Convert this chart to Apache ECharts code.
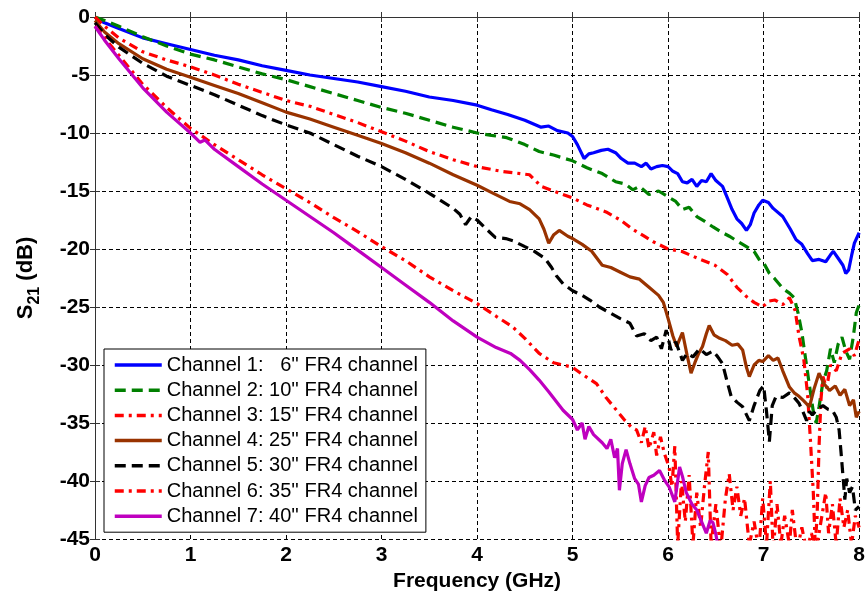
<!DOCTYPE html>
<html>
<head>
<meta charset="utf-8">
<script src="https://cdn.jsdelivr.net/npm/echarts@6/dist/echarts.min.js"></script>
<style>html,body{margin:0;padding:0;background:#fff}#c{width:868px;height:598px}</style>
</head>
<body>
<div id="c"></div>
<script>
// ---- data (frequency GHz, S21 dB) ----
const seriesNames = [
  "Channel 1:   6'' FR4 channel",
  "Channel 2: 10'' FR4 channel",
  "Channel 3: 15'' FR4 channel",
  "Channel 4: 25'' FR4 channel",
  "Channel 5: 30'' FR4 channel",
  "Channel 6: 35'' FR4 channel",
  "Channel 7: 40'' FR4 channel"
];
const xTicks = [0,1,2,3,4,5,6,7,8];
const yTicks = [0,-5,-10,-15,-20,-25,-30,-35,-40,-45];

const ch1 = [[0,0],[0.05,-0.3],[0.1,-0.5],[0.25,-1.0],[0.5,-1.8],[0.75,-2.3],[1.0,-2.8],[1.25,-3.3],[1.5,-3.7],[1.75,-4.2],[2.0,-4.6],[2.25,-5.0],[2.5,-5.3],[2.75,-5.6],[3.0,-6.0],[3.25,-6.4],[3.5,-6.9],[3.75,-7.2],[4.0,-7.6],[4.15,-8.0],[4.32,-8.4],[4.5,-8.9],[4.67,-9.5],[4.75,-9.4],[4.84,-9.8],[4.95,-10.0],[5.0,-10.3],[5.05,-11.0],[5.12,-12.2],[5.17,-11.8],[5.22,-11.7],[5.3,-11.5],[5.37,-11.4],[5.45,-11.7],[5.51,-12.2],[5.58,-12.6],[5.65,-12.6],[5.72,-12.9],[5.77,-12.6],[5.82,-13.1],[5.88,-12.9],[5.94,-12.8],[6.0,-12.9],[6.05,-13.3],[6.1,-13.5],[6.15,-14.2],[6.2,-14.3],[6.25,-14.0],[6.3,-14.6],[6.35,-14.1],[6.4,-14.2],[6.45,-13.5],[6.5,-14.1],[6.57,-14.6],[6.62,-15.6],[6.67,-16.6],[6.72,-17.4],[6.77,-17.8],[6.82,-18.4],[6.86,-17.9],[6.9,-16.9],[6.95,-16.2],[6.99,-15.8],[7.05,-16.0],[7.1,-16.5],[7.2,-17.2],[7.28,-18.3],[7.34,-19.2],[7.4,-19.6],[7.46,-20.4],[7.51,-21.0],[7.58,-20.9],[7.65,-21.1],[7.7,-20.5],[7.73,-20.2],[7.78,-20.8],[7.83,-21.4],[7.86,-22.1],[7.89,-21.8],[7.92,-20.6],[7.95,-19.5],[8.0,-18.6]];

const ch2 = [[0,0],[0.05,-0.15],[0.1,-0.3],[0.25,-0.8],[0.5,-1.7],[0.75,-2.5],[1.0,-3.2],[1.25,-3.7],[1.5,-4.3],[1.75,-4.9],[2.0,-5.4],[2.25,-6.0],[2.5,-6.6],[2.75,-7.2],[3.0,-7.8],[3.25,-8.3],[3.5,-8.9],[3.75,-9.5],[4.0,-10.0],[4.15,-10.2],[4.31,-10.4],[4.5,-11.0],[4.65,-11.6],[4.8,-11.9],[5.0,-12.4],[5.15,-13.0],[5.31,-13.5],[5.45,-14.2],[5.55,-14.4],[5.63,-14.9],[5.7,-14.6],[5.8,-15.3],[5.9,-15.0],[6.0,-15.5],[6.08,-15.9],[6.15,-16.6],[6.22,-16.4],[6.3,-17.2],[6.38,-17.6],[6.47,-18.1],[6.55,-18.5],[6.64,-18.9],[6.72,-19.3],[6.82,-19.8],[6.9,-20.2],[6.96,-21.0],[7.0,-21.2],[7.06,-22.1],[7.12,-22.6],[7.2,-23.4],[7.27,-23.8],[7.32,-24.2],[7.36,-25.5],[7.4,-27.2],[7.44,-29.5],[7.48,-31.8],[7.52,-34.0],[7.55,-35.0],[7.58,-33.6],[7.62,-31.5],[7.66,-30.5],[7.7,-28.6],[7.74,-29.8],[7.78,-28.2],[7.82,-27.6],[7.86,-28.8],[7.9,-29.5],[7.94,-27.5],[7.97,-25.5],[8.0,-24.8]];

const ch3 = [[0,0],[0.05,-0.4],[0.1,-0.8],[0.25,-1.8],[0.5,-3.0],[0.75,-3.7],[1.0,-4.3],[1.25,-5.0],[1.5,-5.8],[1.75,-6.5],[2.0,-7.2],[2.25,-7.7],[2.5,-8.4],[2.75,-9.1],[3.0,-9.9],[3.25,-10.7],[3.5,-11.6],[3.75,-12.3],[4.0,-12.9],[4.25,-13.3],[4.55,-13.6],[4.67,-14.6],[4.8,-15.0],[5.0,-15.6],[5.15,-16.2],[5.35,-16.8],[5.5,-17.5],[5.63,-18.3],[5.75,-18.9],[5.85,-19.4],[6.0,-20.0],[6.14,-20.2],[6.31,-20.8],[6.49,-21.4],[6.62,-22.2],[6.72,-23.3],[6.82,-24.1],[6.9,-24.6],[6.99,-25.0],[7.05,-24.5],[7.12,-24.4],[7.2,-24.8],[7.27,-24.2],[7.33,-25.3],[7.37,-27.5],[7.42,-29.5],[7.46,-32.5],[7.49,-36.5],[7.52,-41.0],[7.54,-45.5],[7.56,-43.0],[7.58,-37.0],[7.6,-33.0],[7.62,-31.0],[7.66,-32.0],[7.7,-30.0],[7.76,-30.5],[7.82,-29.0],[7.9,-28.6],[7.95,-29.2],[8.0,-27.8]];

const ch4 = [[0,-0.3],[0.05,-0.8],[0.1,-1.3],[0.25,-2.3],[0.5,-3.6],[0.75,-4.5],[1.0,-5.2],[1.25,-5.9],[1.5,-6.6],[1.75,-7.4],[2.0,-8.2],[2.25,-8.8],[2.5,-9.5],[2.75,-10.2],[3.0,-10.9],[3.25,-11.7],[3.5,-12.6],[3.75,-13.6],[4.0,-14.5],[4.17,-15.2],[4.34,-15.9],[4.45,-16.1],[4.55,-16.6],[4.65,-17.4],[4.7,-18.3],[4.75,-19.5],[4.8,-18.8],[4.86,-18.4],[4.95,-18.9],[5.0,-19.1],[5.1,-19.6],[5.2,-20.2],[5.31,-21.4],[5.4,-21.6],[5.5,-22.0],[5.6,-22.4],[5.7,-22.6],[5.8,-23.3],[5.9,-24.0],[5.95,-24.6],[6.0,-26.0],[6.05,-27.5],[6.09,-28.4],[6.12,-27.8],[6.15,-27.2],[6.2,-29.2],[6.24,-30.7],[6.28,-29.8],[6.32,-29.0],[6.36,-28.4],[6.4,-27.3],[6.43,-26.6],[6.48,-27.4],[6.54,-27.7],[6.6,-27.9],[6.67,-28.3],[6.73,-28.2],[6.78,-28.7],[6.82,-30.2],[6.85,-31.0],[6.9,-30.0],[6.95,-29.6],[6.99,-29.7],[7.05,-29.2],[7.1,-29.6],[7.15,-29.4],[7.2,-30.5],[7.27,-31.9],[7.32,-32.4],[7.37,-32.7],[7.42,-33.1],[7.48,-33.6],[7.53,-32.0],[7.58,-30.7],[7.63,-31.6],[7.69,-32.2],[7.75,-31.8],[7.8,-32.6],[7.85,-32.1],[7.9,-33.5],[7.94,-33.0],[7.97,-34.5],[8.0,-34.0]];

const ch5 = [[0,-0.5],[0.05,-1.0],[0.1,-1.5],[0.25,-2.6],[0.5,-4.0],[0.75,-5.1],[1.0,-5.9],[1.25,-6.7],[1.5,-7.6],[1.75,-8.5],[2.0,-9.3],[2.25,-10.0],[2.5,-11.0],[2.75,-12.0],[3.0,-12.9],[3.25,-14.0],[3.5,-15.2],[3.75,-16.5],[3.82,-17.0],[3.88,-17.9],[3.94,-17.2],[4.0,-17.5],[4.1,-18.3],[4.19,-19.0],[4.3,-19.1],[4.38,-19.3],[4.5,-19.8],[4.6,-20.2],[4.71,-20.8],[4.78,-21.6],[4.83,-22.3],[4.9,-23.0],[5.0,-23.6],[5.1,-24.0],[5.18,-24.4],[5.28,-25.0],[5.39,-25.5],[5.5,-26.0],[5.6,-26.4],[5.67,-27.5],[5.75,-27.3],[5.82,-27.9],[5.88,-27.6],[5.93,-28.6],[5.98,-27.0],[6.03,-28.7],[6.08,-28.0],[6.15,-29.6],[6.2,-29.0],[6.26,-29.3],[6.33,-28.6],[6.4,-29.1],[6.47,-28.8],[6.52,-29.3],[6.57,-29.9],[6.62,-31.5],[6.66,-32.7],[6.72,-33.2],[6.78,-33.6],[6.85,-34.8],[6.9,-33.5],[6.96,-32.2],[7.0,-31.8],[7.03,-34.0],[7.06,-36.6],[7.09,-33.5],[7.13,-32.7],[7.2,-32.8],[7.27,-32.4],[7.33,-32.9],[7.37,-33.3],[7.41,-34.0],[7.45,-34.8],[7.48,-34.0],[7.51,-34.3],[7.56,-33.8],[7.62,-33.5],[7.67,-33.8],[7.72,-33.9],[7.76,-34.5],[7.79,-35.6],[7.81,-37.5],[7.83,-39.5],[7.85,-41.6],[7.87,-39.8],[7.9,-41.0],[7.93,-40.5],[7.96,-42.5],[8.0,-42.2]];

const ch6 = [[0,-0.8],[0.05,-1.3],[0.1,-1.8],[0.25,-3.3],[0.5,-5.8],[0.75,-7.8],[1.0,-9.6],[1.25,-11.0],[1.5,-12.3],[1.75,-13.6],[2.0,-14.8],[2.25,-16.0],[2.5,-17.3],[2.75,-18.5],[3.0,-19.8],[3.25,-21.0],[3.5,-22.4],[3.75,-23.6],[4.0,-24.7],[4.2,-25.8],[4.37,-26.7],[4.5,-27.7],[4.65,-29.0],[4.8,-29.8],[5.0,-30.2],[5.1,-30.8],[5.25,-31.6],[5.35,-32.8],[5.46,-33.9],[5.55,-34.8],[5.62,-35.4],[5.67,-35.6],[5.72,-36.7],[5.76,-35.3],[5.8,-37.2],[5.85,-35.8],[5.88,-37.8],[5.92,-36.2],[5.96,-37.6],[6.01,-38.8],[6.04,-40.5],[6.07,-37.0],[6.1,-45.5],[6.14,-40.0],[6.18,-43.5],[6.22,-39.5],[6.26,-45.5],[6.3,-41.0],[6.34,-44.0],[6.38,-40.5],[6.42,-37.5],[6.45,-45.5],[6.5,-42.0],[6.55,-46.0],[6.6,-41.5],[6.64,-39.4],[6.68,-42.5],[6.72,-40.5],[6.76,-43.0],[6.8,-41.5],[6.85,-45.5],[6.9,-43.5],[6.95,-46.0],[6.99,-41.5],[7.03,-45.5],[7.07,-40.0],[7.1,-46.0],[7.14,-42.0],[7.18,-45.5],[7.22,-43.0],[7.27,-45.5],[7.3,-42.5],[7.35,-46.0],[7.4,-44.0],[7.45,-46.0],[7.5,-44.5],[7.55,-46.0],[7.6,-43.5],[7.65,-41.0],[7.68,-44.5],[7.72,-42.0],[7.76,-45.5],[7.8,-41.5],[7.84,-44.0],[7.88,-42.5],[7.92,-45.5],[7.96,-43.0],[8.0,-44.0]];

const ch7 = [[0,-0.8],[0.05,-1.4],[0.1,-2.0],[0.25,-3.6],[0.5,-6.1],[0.75,-8.2],[1.0,-10.0],[1.1,-10.8],[1.15,-10.6],[1.25,-11.4],[1.5,-12.9],[1.75,-14.4],[2.0,-15.8],[2.25,-17.2],[2.5,-18.6],[2.75,-20.1],[3.0,-21.6],[3.25,-23.1],[3.5,-24.6],[3.75,-26.2],[4.0,-27.6],[4.2,-28.5],[4.35,-29.0],[4.45,-29.6],[4.55,-30.4],[4.65,-31.3],[4.75,-32.3],[4.9,-33.9],[5.0,-34.7],[5.05,-35.6],[5.1,-35.0],[5.13,-36.4],[5.17,-35.3],[5.22,-36.0],[5.31,-36.7],[5.36,-37.2],[5.4,-36.4],[5.44,-38.0],[5.47,-37.2],[5.49,-40.8],[5.52,-38.5],[5.56,-37.3],[5.6,-38.5],[5.65,-39.8],[5.69,-40.3],[5.72,-41.8],[5.76,-40.4],[5.8,-39.7],[5.85,-39.5],[5.91,-39.1],[5.96,-39.9],[6.01,-40.5],[6.07,-41.8],[6.1,-40.0],[6.12,-38.8],[6.15,-39.6],[6.19,-41.0],[6.25,-42.0],[6.3,-42.5],[6.35,-43.5],[6.4,-44.5],[6.44,-43.4],[6.47,-43.6],[6.5,-44.6],[6.53,-46.0]];

const seriesData = [ch1, ch2, ch3, ch4, ch5, ch6, ch7];
const seriesColors = ['#0000FF', '#008000', '#FF0000', '#993300', '#000000', '#FF0000', '#BF00BF'];
const seriesDash = ['solid', [11, 6], [9, 5, 3, 5], 'solid', [11, 6], [9, 5, 3, 5], 'solid'];

const FONT = "'Liberation Sans', Arial, Helvetica, sans-serif";

const chart = echarts.init(document.getElementById('c'), null, {renderer: 'canvas'});

const series = seriesNames.map((n, i) => ({
  name: n,
  type: 'line',
  data: seriesData[i],
  xAxisIndex: 0,
  yAxisIndex: 0,
  showSymbol: false,
  symbol: 'none',
  legendIcon: 'none',
  clip: true,
  lineStyle: {color: seriesColors[i], width: 3.2, type: seriesDash[i]},
  itemStyle: {color: seriesColors[i]},
  emphasis: {disabled: true},
  animation: false
}));

const frameLine = {show: true, lineStyle: {color: '#333', width: 1}};
const tickIn = {show: true, inside: true, length: 5, lineStyle: {color: '#333', width: 1}};

chart.setOption({
  backgroundColor: '#fff',
  animation: false,
  grid: {left: 95, right: 8, top: 17, bottom: 59, containLabel: false},
  legend: {
    orient: 'vertical',
    left: 104,
    top: 349,
    itemWidth: 47,
    itemHeight: 20,
    itemGap: 5.2,
    padding: [6, 8, 6, 9],
    backgroundColor: '#fff',
    borderColor: '#000',
    borderWidth: 1,
    borderRadius: 0,
    selectedMode: false,
    itemStyle: {opacity: 0},
    lineStyle: {width: 3.5},
    textStyle: {fontSize: 20, fontFamily: FONT, color: '#000'},
    data: seriesNames
  },
  xAxis: [{
    type: 'value', position: 'bottom', min: xTicks[0], max: xTicks[xTicks.length - 1], interval: 1,
    axisLine: frameLine, axisTick: tickIn,
    axisLabel: {fontSize: 21, fontWeight: 'bold', fontFamily: FONT, color: '#000', margin: 6},
    splitLine: {show: true, lineStyle: {color: '#000', width: 1, type: [4, 3]}},
    name: 'Frequency (GHz)', nameLocation: 'middle', nameGap: 30,
    nameTextStyle: {fontSize: 21, fontWeight: 'bold', fontFamily: FONT, color: '#000'}
  }, {
    type: 'value', position: 'top', min: 0, max: 8, interval: 1,
    axisLine: frameLine, axisTick: tickIn, axisLabel: {show: false}, splitLine: {show: false}
  }],
  yAxis: [{
    type: 'value', position: 'left', min: yTicks[yTicks.length - 1], max: yTicks[0], interval: 5,
    axisLine: frameLine, axisTick: tickIn,
    axisLabel: {fontSize: 21, fontWeight: 'bold', fontFamily: FONT, color: '#000', margin: 5},
    splitLine: {show: true, lineStyle: {color: '#000', width: 1, type: [4, 3]}},
    name: '{s|S}{sub|21}{s| (dB)}', nameLocation: 'middle', nameGap: 52, nameRotate: 90,
    nameTextStyle: {
      fontFamily: FONT, color: '#000',
      rich: {
        s: {fontSize: 22, fontWeight: 'bold', fontFamily: FONT, color: '#000'},
        sub: {fontSize: 16, fontWeight: 'bold', fontFamily: FONT, color: '#000', padding: [18, 0, 0, 0]}
      }
    }
  }, {
    type: 'value', position: 'right', min: -45, max: 0, interval: 5,
    axisLine: frameLine, axisTick: tickIn, axisLabel: {show: false}, splitLine: {show: false}
  }],
  series: series
});
</script>
</body>
</html>
